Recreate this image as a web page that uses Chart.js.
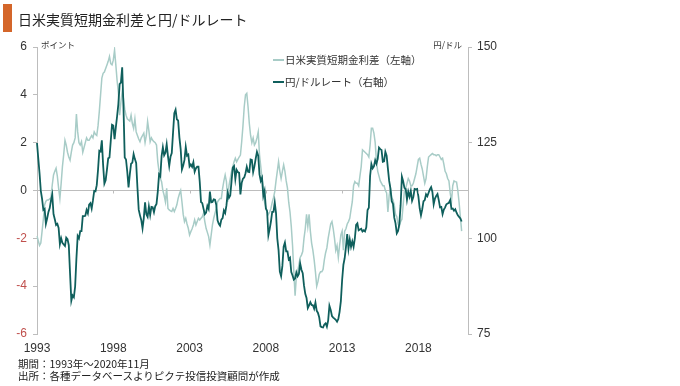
<!DOCTYPE html>
<html><head><meta charset="utf-8">
<script src="https://cdn.jsdelivr.net/npm/chart.js@4"></script>
<style>
html,body{margin:0;padding:0;background:#fff;}
#wrap{position:relative;width:680px;height:386px;overflow:hidden;font-family:"Noto Sans CJK JP",sans-serif;color:#222;}
#c{position:absolute;left:0;top:0;}
.bar{position:absolute;left:3px;top:4px;width:9px;height:28px;background:#d4662a;}
.title{position:absolute;left:18px;top:9px;font-size:14px;line-height:20px;white-space:nowrap;}
.note{position:absolute;left:18px;font-size:10.5px;line-height:12px;white-space:nowrap;}
.unit{position:absolute;top:38px;font-size:8.5px;line-height:12px;color:#333;white-space:nowrap;}
</style></head>
<body>
<div id="wrap">
<canvas id="c" width="680" height="386"></canvas>
<div class="bar"></div>
<div class="title">日米実質短期金利差と円/ドルレート</div>
<div class="unit" style="left:41px;">ポイント</div>
<div class="unit" style="right:218px;">円/ドル</div>
<div class="note" style="top:358px;">期間：1993年～2020年11月</div>
<div class="note" style="top:370px;">出所：各種データベースよりピクテ投信投資顧問が作成</div>
</div>
<script>
// tick labels (every 5 years, January)
const tickYears = ['1993','1998','2003','2008','2013','2018'];
const startYear = 1993;
const monthCount = 340; // axis runs 1993-01 .. 2021-04
const months = [];
for (let i = 0; i < monthCount; i++) {
  months.push((startYear + Math.floor(i / 12)) + '-' + String(i % 12 + 1).padStart(2, '0'));
}
const seriesNames = ['日米実質短期金利差（左軸）', '円/ドルレート（右軸）'];

// 日米実質短期金利差 (points), monthly 1993-01 .. 2020-11
const rateDiff = [
 -1.9,-2.1,-2.3,-2.2,-1.7,-1.2,-0.6,-0.45,-0.4,-0.4,-0.35,-0.3,
 0.23,0.65,0.8,0.93,0.6,0.1,-0.33,0.3,1.0,1.5,2.1,1.9,
 1.6,1.4,1.27,1.6,1.9,2.0,2.2,3.2,2.45,2.0,1.9,2.04,
 1.6,1.8,2.0,2.2,2.1,2.1,2.2,2.3,2.2,2.45,2.35,2.3,
 2.7,3.3,4.0,4.7,4.9,4.95,5.1,5.25,5.4,5.6,5.3,5.25,
 5.45,5.87,5.25,4.6,4.1,3.15,3.7,4.13,3.85,3.4,3.15,3.0,
 2.95,2.9,3.15,2.8,2.6,3.0,2.45,2.3,2.15,2.04,2.2,2.3,
 2.4,2.0,2.3,2.88,2.5,2.04,2.2,2.1,2.04,2.0,1.9,1.2,
 0.8,0.5,0.37,0.0,-0.2,-0.47,0.09,-0.75,-0.81,-0.85,-0.88,-0.75,
 -0.88,-0.75,-0.6,-0.33,-0.15,0.0,-0.47,-1.0,-1.3,-1.16,-1.4,-1.58,
 -1.86,-1.72,-1.6,-1.44,-1.23,-1.44,-1.3,-1.16,-1.23,-1.16,-1.1,-0.95,
 -1.3,-1.58,-1.75,-1.93,-2.28,-1.86,-1.44,-1.16,-0.95,-0.75,-0.47,-0.4,
 -0.33,-0.33,0.09,0.4,0.65,0.37,-0.47,0.2,0.5,0.79,1.0,1.2,
 1.35,1.2,1.3,1.4,1.48,2.04,2.7,3.5,4.0,4.06,3.5,2.8,
 2.3,2.0,2.2,1.9,2.0,2.2,2.45,1.5,1.0,0.5,0.1,-0.5,
 -0.7,-0.9,-1.0,-0.9,-0.75,-0.5,-0.3,-0.05,0.4,0.8,1.2,0.8,
 0.5,0.8,1.07,0.8,0.4,0.1,-0.5,-0.9,-1.5,-2.3,-3.4,-4.4,
 -3.6,-3.4,-3.1,-2.8,-2.7,-2.55,-2.0,-1.6,-1.0,-1.5,-1.0,-1.7,
 -2.2,-2.5,-2.9,-3.4,-4.0,-3.8,-3.5,-3.4,-3.4,-3.3,-2.9,-2.6,
 -2.4,-2.0,-1.7,-1.4,-1.3,-1.6,-2.0,-2.5,-2.3,-2.8,-2.3,-1.86,
 -1.7,-2.5,-1.7,-1.6,-1.4,-1.3,-1.16,-0.8,-0.47,0.2,0.37,0.3,
 0.3,0.2,0.6,1.0,1.7,1.65,1.6,1.55,1.5,1.4,1.9,2.6,
 2.6,2.4,2.0,1.2,0.8,0.6,0.4,0.3,0.2,0.2,0.0,-0.1,
 -0.9,-0.2,0.1,-0.3,-0.4,-0.6,-1.0,-1.1,-1.4,-1.5,-1.3,-1.2,
 -0.6,0.0,0.1,0.3,0.5,0.4,0.2,0.2,0.3,0.5,0.7,1.0,
 1.3,1.35,1.1,0.9,0.6,0.3,0.5,1.0,1.4,1.45,1.5,1.55,
 1.5,1.5,1.45,1.5,1.5,1.4,1.3,1.35,1.1,0.8,0.7,0.5,
 0.4,-0.1,-0.47,0.2,0.4,0.37,0.35,0.0,-0.5,-1.1,-1.7
];

// 円/ドルレート (yen per dollar), monthly 1993-01 .. 2020-11
const usdJpy = [
 124.9,120.9,117.0,112.4,110.3,107.4,107.7,103.8,105.2,106.9,107.9,109.9,
 111.4,106.3,105.0,103.5,103.8,102.7,98.5,100.0,98.8,98.4,98.0,100.2,
 99.8,98.2,90.8,83.7,85.1,84.6,87.4,94.7,100.6,100.0,101.9,101.9,
 105.8,105.8,105.9,107.4,106.5,108.8,109.2,107.8,109.9,112.4,112.3,113.9,
 117.9,122.9,122.7,125.6,119.2,114.3,115.2,117.9,120.9,121.1,125.4,129.7,
 129.5,125.9,129.0,131.9,135.1,140.3,140.7,144.7,134.5,121.1,120.6,117.4,
 113.3,116.7,119.5,119.8,122.0,120.7,119.7,113.3,107.5,106.0,104.8,102.6,
 105.3,109.4,106.3,105.6,108.3,106.1,108.2,108.1,106.8,108.4,109.0,112.2,
 116.7,116.2,121.5,123.8,121.7,122.4,124.6,121.5,118.9,121.3,122.3,127.6,
 132.7,133.6,131.1,130.8,126.4,123.3,118.0,119.0,120.5,123.9,121.6,121.9,
 118.8,119.3,118.7,119.9,117.4,118.3,118.7,118.7,114.8,109.5,109.2,107.7,
 106.3,106.7,108.5,107.7,112.2,109.4,109.5,110.2,110.1,108.8,104.7,103.8,
 103.3,104.9,105.3,107.3,106.6,108.6,111.9,110.6,111.2,114.9,118.5,118.9,
 115.5,117.9,117.3,117.1,111.5,114.5,115.6,115.9,117.0,118.7,117.4,117.3,
 120.6,120.5,117.3,118.8,120.8,122.6,121.6,116.7,115.0,115.8,111.1,112.4,
 107.8,107.1,100.8,102.4,104.4,106.9,106.9,109.4,106.6,100.0,96.9,91.3,
 90.1,92.8,97.8,98.9,96.6,96.6,94.5,94.9,91.2,90.3,89.2,89.5,
 91.1,90.1,90.7,93.4,91.8,90.9,87.7,85.5,84.4,81.8,82.5,83.3,
 82.6,82.5,81.6,83.2,81.1,80.5,79.3,77.0,76.8,76.7,77.5,77.8,
 76.9,78.5,82.4,81.3,79.7,79.3,79.0,78.7,78.2,78.9,80.8,83.6,
 89.1,93.1,94.8,97.7,101.1,97.3,99.7,97.8,99.2,97.8,100.0,103.5,
 103.9,102.1,102.3,102.5,101.8,102.1,101.8,102.9,107.4,108.0,116.3,119.4,
 118.3,118.8,120.4,119.5,120.8,123.7,123.3,123.1,120.0,120.1,122.6,121.6,
 118.2,115.0,113.0,109.7,109.0,105.4,103.9,101.3,101.9,103.8,108.6,116.1,
 114.9,113.2,112.9,110.1,112.2,110.9,112.4,109.8,110.8,112.9,112.8,112.9,
 110.9,107.8,106.0,107.6,109.7,110.0,111.5,111.0,111.9,112.8,113.4,112.1,
 108.9,110.4,111.1,111.6,110.0,108.1,108.2,106.3,107.5,108.1,108.9,109.1,
 109.3,110.0,107.7,107.8,107.2,107.6,106.7,106.0,105.6,105.2,104.4
];

const AXIS = '#bdbdbd';
const FONT = '"Noto Sans CJK JP", sans-serif';
const NUMFONT = '"Liberation Sans", Arial, sans-serif';

const decor = {
  id: 'decor',
  afterDatasetsDraw(chart) {
    const ctx = chart.ctx, xs = chart.scales.x, ys = chart.scales.y, ca = chart.chartArea;
    // small ticks on the zero line
    const y0 = ys.getPixelForValue(0);
    ctx.save();
    ctx.strokeStyle = AXIS; ctx.lineWidth = 1;
    tickYears.forEach((t, k) => {
      const x = Math.round(xs.getPixelForValue(k * 60)) + 0.5;
      ctx.beginPath(); ctx.moveTo(x, y0); ctx.lineTo(x, y0 + 3); ctx.stroke();
    });
    // legend
    const lx = ca.left + 236;
    const rows = [ca.top + 13, ca.top + 35];
    chart.data.datasets.forEach((ds, i) => {
      const y = rows[i];
      ctx.strokeStyle = ds.borderColor; ctx.lineWidth = 2;
      ctx.beginPath(); ctx.moveTo(lx, y); ctx.lineTo(lx + 11, y); ctx.stroke();
      ctx.fillStyle = '#333'; ctx.font = '10.5px ' + FONT; ctx.textBaseline = 'middle';
      ctx.fillText(ds.label, lx + 12, y);
    });
    ctx.restore();
  }
};

new Chart(document.getElementById('c'), {
  type: 'line',
  data: {
    labels: months,
    datasets: [
      { label: seriesNames[0], data: rateDiff, yAxisID: 'y', borderColor: '#a8ccc7', borderWidth: 1.5, pointRadius: 0, tension: 0, order: 2 },
      { label: seriesNames[1], data: usdJpy, yAxisID: 'y2', borderColor: '#0f5f5c', borderWidth: 1.8, pointRadius: 0, tension: 0, order: 1 }
    ]
  },
  options: {
    responsive: false, animation: false, events: [],
    layout: { padding: { top: 47, left: 0, right: 0, bottom: 0 } },
    plugins: { legend: { display: false }, tooltip: { enabled: false }, title: { display: false } },
    scales: {
      x: {
        type: 'category', offset: false,
        border: { display: false },
        grid: { display: false, drawTicks: false },
        ticks: {
          autoSkip: false, maxRotation: 0, padding: 7, color: '#333',
          font: { size: 12, family: NUMFONT },
          callback: (v, i) => (i % 60 === 0 ? tickYears[i / 60] : null)
        },
        afterFit: s => { s.height = 52; }
      },
      y: {
        position: 'left', min: -6, max: 6,
        border: { color: AXIS },
        grid: { color: c => (c.tick && c.tick.value === 0 ? AXIS : 'rgba(0,0,0,0)'), tickColor: AXIS, tickLength: 4 },
        ticks: { stepSize: 2, padding: 6, font: { size: 12, family: NUMFONT },
                 color: c => (c.tick && c.tick.value < 0 ? '#c0504d' : '#333') },
        afterFit: s => { s.width = 37; }
      },
      y2: {
        position: 'right', min: 75, max: 150,
        border: { color: AXIS },
        grid: { drawOnChartArea: false, color: AXIS, tickColor: AXIS, tickLength: 4 },
        ticks: { stepSize: 25, padding: 5, color: '#333', font: { size: 12, family: NUMFONT } },
        afterFit: s => { s.width = 212; }
      }
    }
  },
  plugins: [decor]
});
</script>
</body></html>
